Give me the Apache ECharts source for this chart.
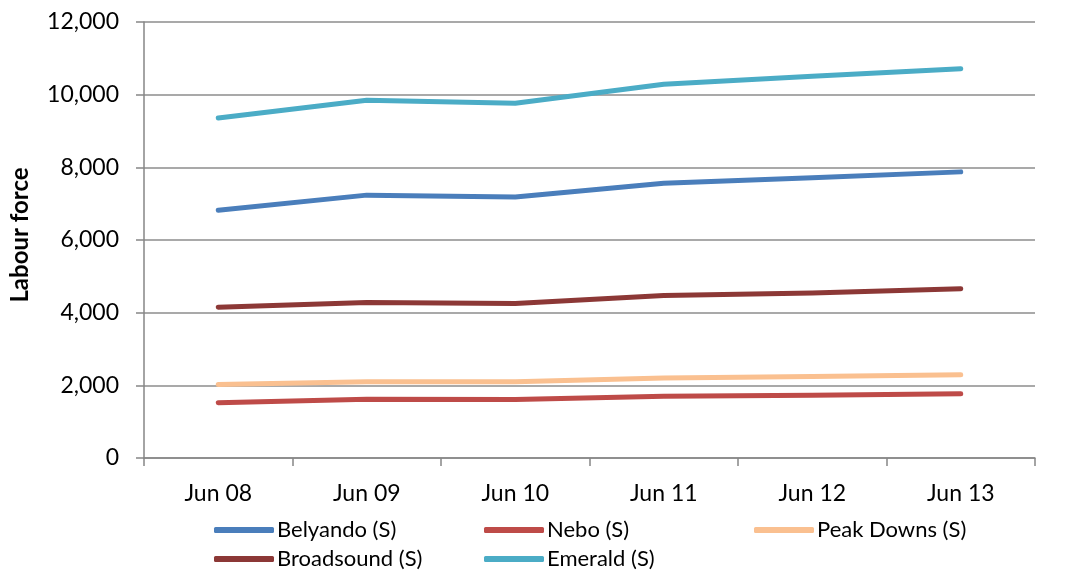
<!DOCTYPE html>
<html>
<head>
<meta charset="utf-8">
<script src="https://cdn.jsdelivr.net/npm/echarts@6/dist/echarts.min.js"></script>
<style>
  html, body { margin: 0; padding: 0; background: #fff; }
  #chart { width: 1066px; height: 575px; }
</style>
</head>
<body>
<div id="chart"></div>
<script>
// categories and values
const categories = ['Jun 08', 'Jun 09', 'Jun 10', 'Jun 11', 'Jun 12', 'Jun 13'];
const belyando = [6820, 7235, 7185, 7560, 7715, 7875];
const nebo = [1520, 1620, 1610, 1700, 1730, 1770];
const peakDowns = [2020, 2100, 2100, 2200, 2240, 2290];
const broadsound = [4150, 4280, 4250, 4470, 4540, 4660];
const emerald = [9360, 9845, 9765, 10285, 10510, 10715];

const seriesNames = ['Belyando (S)', 'Nebo (S)', 'Peak Downs (S)', 'Broadsound (S)', 'Emerald (S)'];
const seriesData = [belyando, nebo, peakDowns, broadsound, emerald];
const seriesColors = ['#4a7ebb', '#be4b48', '#fac090', '#8c3836', '#4bacc6'];

const font = 'Lato, "Open Sans", sans-serif';

// Excel-style legend: three columns, two rows
const legendSpots = [[214, 519], [484, 519], [754, 519], [214, 548], [484, 548]];

const chart = echarts.init(document.getElementById('chart'));

chart.setOption({
  animation: false,
  textStyle: { fontFamily: font },
  grid: { left: 142, right: 31, top: 22, bottom: 117 },
  legend: seriesNames.map((name, i) => ({
    data: [name],
    left: legendSpots[i][0],
    top: legendSpots[i][1],
    padding: 0,
    itemWidth: 60,
    itemHeight: 6,
    itemGap: 0,
    icon: 'roundRect',
    textStyle: { fontSize: 22, color: '#000', padding: [0, 0, 0, -2] }
  })),
  xAxis: {
    type: 'category',
    data: categories,
    boundaryGap: true,
    axisLine: { lineStyle: { color: '#868686', width: 1.5 } },
    axisTick: { show: true, length: 8, lineStyle: { color: '#868686', width: 1.5 } },
    axisLabel: { fontSize: 23, color: '#000', margin: 24 }
  },
  yAxis: {
    type: 'value',
    min: 0,
    max: 12000,
    interval: 2000,
    name: 'Labour force',
    nameLocation: 'middle',
    nameGap: 112,
    nameTextStyle: { fontSize: 24, fontWeight: 'bold', color: '#000', padding: [0, 0, 0, 10] },
    axisLine: { show: true, lineStyle: { color: '#868686', width: 1.5 } },
    axisTick: { show: true, length: 8, lineStyle: { color: '#868686', width: 1.5 } },
    axisLabel: {
      fontSize: 23,
      color: '#000',
      margin: 25,
      formatter: (v) => v.toLocaleString('en-US')
    },
    splitLine: { lineStyle: { color: '#8c8c8c', width: 1.5 } }
  },
  series: seriesNames.map((name, i) => ({
    name: name,
    type: 'line',
    data: seriesData[i],
    showSymbol: false,
    symbol: 'none',
    color: seriesColors[i],
    lineStyle: { width: 5, cap: 'round', join: 'round' }
  }))
});
</script>
</body>
</html>
